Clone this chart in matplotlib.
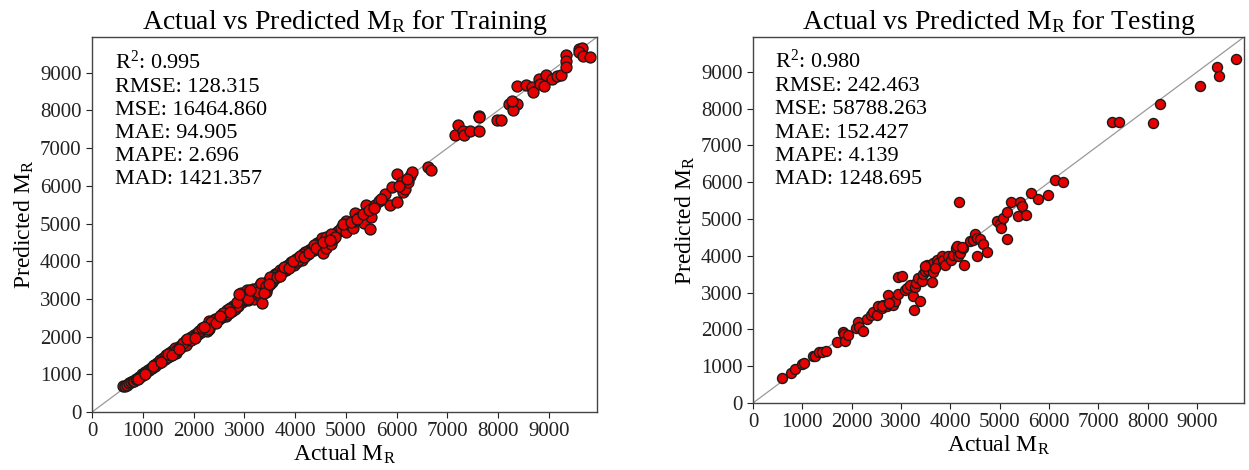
import matplotlib
matplotlib.use("Agg")
from matplotlib import pyplot as plt

plt.rcParams['font.family'] = ['Liberation Serif', 'DejaVu Serif']
plt.rcParams['mathtext.fontset'] = 'stix'

# training set: actual vs predicted M_R
train_actual = [600, 640, 690, 730, 770, 800, 830, 860, 890, 920, 950, 980, 1010, 1040, 1070, 1100,
                1130, 1160, 1190, 1220, 1250, 1280, 1310, 1340, 1370, 1400,
                1430, 1460, 1490, 1520, 1550, 1580, 1610, 1640, 1670, 1700, 1730, 1760, 1790, 1820,
                1850, 1880, 1910, 1940, 1970, 2000, 2030, 2060, 2090, 2120, 2150, 2180, 1660, 1850,
                2210, 2240, 2270, 2300, 2300, 2330, 2360, 2390, 2420, 2450, 2480, 2510, 2540, 2570,
                2600, 2630, 2660, 2690, 2720, 2750, 2780, 2810, 2840, 2870, 2900, 2930, 2960, 2990,
                3010, 3040, 3060, 3080, 3100, 3130, 3160, 3190, 3200, 3220, 3250, 3280, 3300, 3340,
                3350, 3380, 3400, 3420, 3450, 3470, 3500, 3520, 3550, 3580, 3600,
                3620, 3650, 3680, 3710, 3740, 3770, 3800, 3830, 3860, 3890, 3920, 3950, 3980, 4010,
                4040, 4070, 4100, 4130, 4160, 4190, 4220, 4250, 4280, 4310, 4340, 4370, 4400, 4430,
                4460, 4490,
                900, 1050, 1200, 1350, 1500, 1650, 1800, 1950, 2100, 2250, 2400, 2550, 2700, 2850,
                3000, 3150, 3300, 3450, 3600, 3750, 3900, 4050, 4200, 4350, 4500, 2350, 2650, 2950,
                3250, 3550, 3850, 4150, 4450,
                1580, 1720, 1880, 2020, 2160, 2280, 2440, 2580, 2720, 2860, 2990, 3070, 3180, 3270,
                3330, 3420, 3510, 3640, 3700, 3790, 3880, 3960, 4090, 4180, 4270, 4380, 4420, 4530,
                2900, 3120, 3380, 3490, 2530, 2200,
                4548, 4614, 4647, 4713, 4746, 4812, 4850, 4900, 4980, 5010, 5010, 5050, 5142, 5175,
                5175, 5250, 5307, 5360, 5406, 5472, 5491, 5584, 5650, 5716, 5769, 5868, 5914, 6000,
                6000, 6099, 6132, 6165, 6218, 6264, 6297, 6614, 6680,
                4600, 4700, 4780, 4560, 4680, 4950, 5100, 5220, 5330, 5450, 5560, 5700, 6050, 6200,
                7142, 7208, 7300, 7320, 7452, 7617, 7617, 7630, 7980, 8059, 8211, 8297, 8376, 8297,
                8270, 8376, 8541, 8673, 8686, 8805, 8818, 8904, 8937, 9069, 9168, 9234, 9333, 9333,
                9333, 9598, 9663, 9598, 9683, 9815]
train_pred = [690, 700, 705, 760, 790, 830, 815, 870, 880, 935, 930, 1000, 990, 1060, 1050, 1120,
              1110, 1180, 1160, 1240, 1230, 1300, 1290, 1380, 1340, 1420,
              1400, 1500, 1460, 1560, 1500, 1620, 1580, 1700, 1640, 1660, 1760, 1720, 1830, 1780,
              1900, 1840, 1920, 1990, 1930, 2050, 1990, 2100, 2060, 2160, 2110, 2230, 1560, 1780,
              2180, 2290, 2140, 2410, 2200, 2300, 2380, 2350, 2460, 2400, 2500, 2460, 2580, 2520,
              2640, 2560, 2700, 2620, 2760, 2680, 2800, 2740, 2860, 2800, 2950, 3160, 2920, 3050,
              2980, 3100, 3250, 2960, 3180, 3050, 3200, 3120, 3000, 3260, 3150, 3300, 3080, 2900,
              3350, 3250, 3420, 3180, 3300, 3480, 3400, 3560, 3450, 3520, 3650,
              3580, 3700, 3660, 3760, 3720, 3800, 3860, 3780, 3900, 3860, 3980, 3930, 3900, 4050,
              3990, 4100, 4060, 4020, 4200, 4150, 4240, 4200, 4300, 4260, 4350, 4310, 4400, 4480,
              4380, 4470,
              880, 1020, 1230, 1320, 1540, 1620, 1840, 1920, 2140, 2220, 2450, 2520, 2740, 2820,
              3060, 3120, 3360, 3400, 3640, 3720, 3940, 4020, 4240, 4330, 4520, 2400, 2610, 2990,
              3210, 3590, 3810, 4190, 4420,
              1520, 1660, 1950, 1960, 2230, 2210, 2360, 2640, 2660, 2930, 3110, 3000, 3270, 3190,
              3410, 3330, 3580, 3590, 3610, 3850, 3820, 4010, 4140, 4120, 4210, 4440, 4350, 4610,
              3130, 3230, 3150, 3390, 2560, 2250,
              4227, 4361, 4582, 4449, 4600, 4742, 4800, 4880, 4960, 4776, 5070, 5000, 4893, 5070,
              5275, 5150, 5204, 5027, 5488, 4867, 5186, 5488, 5600, 5647, 5780, 5488, 5959, 5559,
              6313, 6091, 5825, 5914, 6109, 6269, 6358, 6492, 6429,
              4650, 4720, 4640, 4500, 4560, 5000, 5050, 5120, 5260, 5350, 5420, 5660, 6000, 6180,
              7344, 7610, 7459, 7344, 7459, 7459, 7858, 7820, 7752, 7752, 8170, 8125, 8170, 8018,
              8250, 8657, 8684, 8613, 8498, 8835, 8702, 8657, 8942, 8835, 8906, 8942, 9475, 9323,
              9164, 9635, 9652, 9545, 9457, 9412]

# testing set
test_actual = [595, 770, 851, 1000, 1040, 1223, 1257, 1338, 1392, 1480, 1696, 1818, 1845, 1865,
               1919, 2088, 2135, 2149, 2223, 2318, 2392, 2439, 2520, 2541, 2608, 2642, 2709, 2743,
               2777, 2831, 2878, 2946, 2946, 3027, 3081, 3115, 3182, 3250, 3264, 3284, 3304, 3351,
               3385, 3419, 3439, 3486, 3520, 3554, 3588, 3622, 3642, 3655, 3723, 3757, 3824, 3858,
               3892, 3959, 4007, 4061, 4115, 4162, 4196, 4182, 4250, 4277, 4399, 4466, 4500, 4547,
               4534, 4601, 4669, 4736, 4953, 5000, 5020, 5061, 5142, 5142, 5223, 5365, 5412, 5446,
               5534, 5628, 5770, 5986, 6122, 6291, 7284, 7419, 8101, 8250, 9061, 9399, 9446, 9791,
               3486, 3689, 4128, 4230, 2620, 2760]
test_pred = [690, 827, 918, 1055, 1100, 1264, 1282, 1373, 1382, 1418, 1645, 1927, 1873, 1673,
             1855, 2036, 2191, 2055, 1964, 2291, 2400, 2473, 2400, 2627, 2582, 2673, 2627, 2927,
             2700, 2673, 2764, 2973, 3427, 3445, 3082, 3118, 3218, 2900, 2536, 3155, 3264, 3400,
             2782, 3309, 3518, 3582, 3764, 3627, 3718, 3282, 3555, 3809, 3900, 3809, 3991, 3882,
             3764, 3991, 3882, 4036, 4218, 3991, 4082, 5473, 4218, 3764, 4400, 4427, 4582, 4491,
             3991, 4464, 4309, 4100, 4945, 4870, 4745, 5036, 5191, 4464, 5464, 5082, 5464, 5355,
             5100, 5718, 5536, 5664, 6055, 6009, 7627, 7627, 7600, 8118, 8609, 9127, 8900, 9355,
             3718, 3673, 4264, 4245, 2640, 2720]

train_metrics = ["$\\mathregular{R^2}$: 0.995", "RMSE: 128.315", "MSE: 16464.860",
                 "MAE: 94.905", "MAPE: 2.696", "MAD: 1421.357"]
test_metrics = ["$\\mathregular{R^2}$: 0.980", "RMSE: 242.463", "MSE: 58788.263",
                "MAE: 152.427", "MAPE: 4.139", "MAD: 1248.695"]

lim = 9950
ticks = list(range(0, 10000, 1000))

fig = plt.figure(figsize=(12.49, 4.70), dpi=100)
ax1 = fig.add_axes([0.0737, 0.1234, 0.4043, 0.7979])
ax2 = fig.add_axes([0.6029, 0.1426, 0.3931, 0.7787])

panels = [(ax1, train_actual, train_pred, train_metrics, "Training", 62),
          (ax2, test_actual, test_pred, test_metrics, "Testing", 52)]

for ax, act, pred, metrics, name, size in panels:
    ax.plot([0, lim], [0, lim], color="#999999", lw=0.9, zorder=1)
    ax.scatter(act, pred, s=size, color="#e60000", edgecolors="#1a1a1a",
               linewidths=1.0, zorder=2)
    ax.set_xlim(0, lim)
    ax.set_ylim(0, lim)
    ax.set_xticks(ticks)
    ax.set_yticks(ticks)
    ax.tick_params(labelsize=15, direction="out", length=4, colors="#222222")
    for sp in ax.spines.values():
        sp.set_color("#444444")
        sp.set_linewidth(1.0)
    ax.set_title("Actual vs Predicted $\\mathregular{M_R}$ for " + name, fontsize=20)
    ax.set_xlabel("Actual $\\mathregular{M_R}$", fontsize=17, labelpad=1)
    ax.set_ylabel("Predicted $\\mathregular{M_R}$", fontsize=17, labelpad=3)
    ax.text(0.045, 0.965, "\n".join(metrics), transform=ax.transAxes, fontsize=16,
            va="top", ha="left", linespacing=1.3)

fig.savefig("out.png", dpi=100)
